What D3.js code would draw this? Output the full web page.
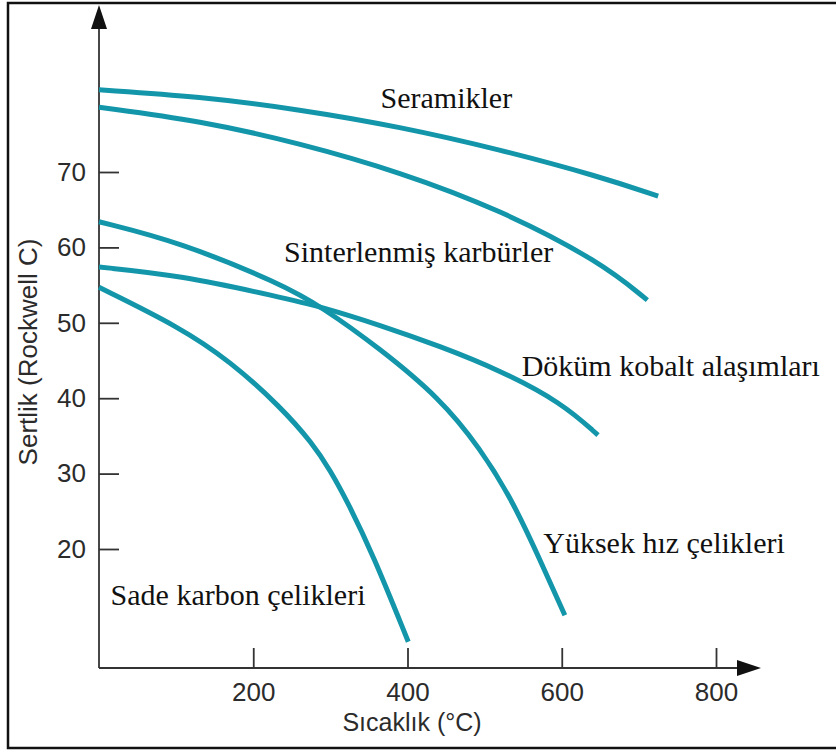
<!DOCTYPE html>
<html>
<head>
<meta charset="utf-8">
<script src="https://cdn.jsdelivr.net/npm/d3@7"></script>
<style>
  body { margin: 0; background: #fff; }
  svg { display: block; }
</style>
</head>
<body>
<div id="chart"></div>
<script>
(function () {

// tick values on both axes
var xTicks = [200, 400, 600, 800];
var yTicks = [20, 30, 40, 50, 60, 70];

// hardness (HRC) vs temperature (°C)
var seramikTemp = [0, 130, 260, 390, 519, 649, 725];
var seramikHrc  = [80.9, 80.0, 78.3, 76.0, 73.0, 69.4, 66.8];

var sinterTemp = [0, 131, 261, 390, 520, 650, 711];
var sinterHrc  = [78.6, 76.8, 73.8, 70.0, 65.0, 58.1, 53.0];

var kobaltTemp = [0, 105, 235, 289, 364, 442, 520, 600, 647];
var kobaltHrc  = [57.4, 56.3, 53.4, 52.1, 49.7, 46.9, 43.7, 39.4, 35.1];

var yuksekTemp = [0, 105, 235, 289, 364, 442, 494, 537, 576, 604];
var yuksekHrc  = [63.4, 60.7, 55.2, 52.1, 46.6, 40.0, 33.4, 26.3, 17.6, 11.2];

var sadeTemp = [0, 105, 170, 235, 277, 300, 322, 355, 401];
var sadeHrc  = [54.7, 49.4, 44.9, 38.9, 34.0, 30.4, 26.3, 19.3, 7.7];

// label text + where it sits in data units
var labelNames = ["Seramikler", "Sinterlenmiş karbürler", "Döküm kobalt alaşımları", "Yüksek hız çelikleri", "Sade karbon çelikleri"];
var labelTemp  = [365, 240, 548, 576, 15];
var labelHrc   = [78.5, 58.0, 42.9, 19.5, 12.6];

var width = 836;
var height = 751;

var svg = d3.select("#chart")
  .append("svg")
  .attr("width", width)
  .attr("height", height);

// frame around the picture
svg.append("rect")
  .attr("x", 8)
  .attr("y", 3)
  .attr("width", 830)
  .attr("height", 745)
  .style("fill", "none")
  .style("stroke", "#111")
  .style("stroke-width", 2.5);

var x = d3.scaleLinear().domain([0, 800]).range([99, 716]);
var y = d3.scaleLinear().domain([20, 70]).range([549, 172]);

var axisColor = "#333";
var x0 = x(0);
var yBase = 668;

// axis lines with arrow heads
svg.append("line")
  .attr("x1", x0).attr("y1", yBase)
  .attr("x2", x0).attr("y2", 20)
  .style("stroke", axisColor)
  .style("stroke-width", 1.8);

svg.append("path")
  .attr("d", "M" + (x0 - 8) + ",29 L" + x0 + ",5 L" + (x0 + 8) + ",29 Z")
  .style("fill", "#111");

svg.append("line")
  .attr("x1", x0).attr("y1", yBase)
  .attr("x2", 745).attr("y2", yBase)
  .style("stroke", axisColor)
  .style("stroke-width", 1.8);

svg.append("path")
  .attr("d", "M737," + (yBase - 8) + " L761," + yBase + " L737," + (yBase + 8) + " Z")
  .style("fill", "#111");

// ticks point inwards
var gx = svg.append("g")
  .attr("transform", "translate(0," + yBase + ")")
  .call(d3.axisBottom(x).tickValues(xTicks).tickSize(-20).tickPadding(15));

var gy = svg.append("g")
  .attr("transform", "translate(" + x0 + ",0)")
  .call(d3.axisLeft(y).tickValues(yTicks).tickSize(-20).tickPadding(13));

[gx, gy].forEach(function (g) {
  g.select(".domain").remove();
  g.selectAll(".tick line").style("stroke", axisColor).style("stroke-width", 1.8);
  g.selectAll(".tick text")
    .style("font-family", "'Liberation Sans', Arial, sans-serif")
    .style("font-size", "26px")
    .style("fill", "#2b2b2b");
});

// axis titles
svg.append("text")
  .attr("x", 412)
  .attr("y", 731)
  .attr("text-anchor", "middle")
  .style("font-family", "'Liberation Sans', Arial, sans-serif")
  .style("font-size", "25px")
  .style("fill", "#2b2b2b")
  .text("Sıcaklık (°C)");

svg.append("text")
  .attr("transform", "translate(37,352) rotate(-90)")
  .attr("text-anchor", "middle")
  .style("font-family", "'Liberation Sans', Arial, sans-serif")
  .style("font-size", "26px")
  .style("fill", "#2b2b2b")
  .text("Sertlik (Rockwell C)");

// curves - smooth b-spline through the read points
var line = d3.line()
  .x(function (d) { return x(d[0]); })
  .y(function (d) { return y(d[1]); })
  .curve(d3.curveBasis);

var series = [
  d3.zip(seramikTemp, seramikHrc),
  d3.zip(sinterTemp, sinterHrc),
  d3.zip(kobaltTemp, kobaltHrc),
  d3.zip(yuksekTemp, yuksekHrc),
  d3.zip(sadeTemp, sadeHrc)
];

svg.append("g")
  .selectAll("path")
  .data(series)
  .enter()
  .append("path")
  .attr("d", line)
  .style("fill", "none")
  .style("stroke", "#1396aa")
  .style("stroke-width", 5)
  .style("stroke-linecap", "butt");

// curve names
svg.append("g")
  .selectAll("text")
  .data(labelNames)
  .enter()
  .append("text")
  .attr("x", function (d, i) { return x(labelTemp[i]); })
  .attr("y", function (d, i) { return y(labelHrc[i]); })
  .style("font-family", "'Liberation Serif', 'Times New Roman', serif")
  .style("font-size", "30px")
  .style("fill", "#111")
  .text(function (d) { return d; });

})();
</script>
</body>
</html>
